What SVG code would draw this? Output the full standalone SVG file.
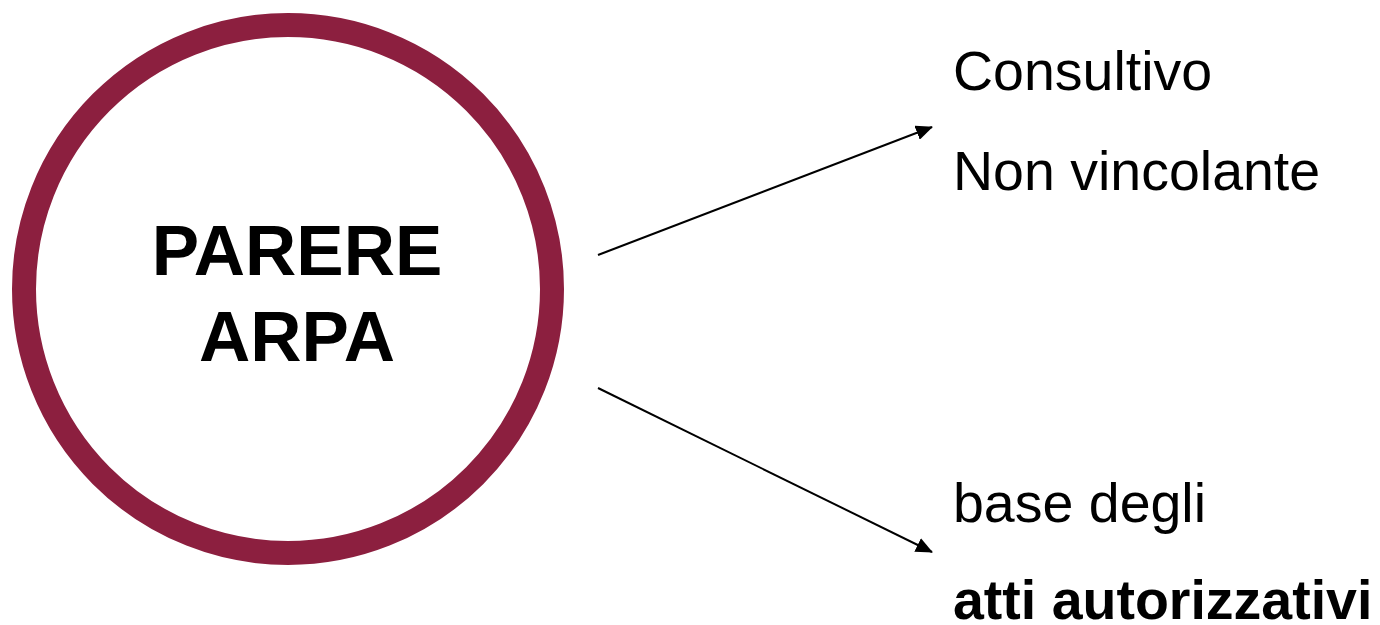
<svg xmlns="http://www.w3.org/2000/svg" width="1380" height="625" viewBox="0 0 1380 625">
<style>
.lbl{font-family:"Liberation Sans",Arial,sans-serif;font-size:55.5px;fill:#000}
.b{font-weight:bold}
.title{font-family:"Liberation Sans",Arial,sans-serif;font-size:71px;font-weight:bold;fill:#000;text-anchor:middle}
.conn{stroke:#000;stroke-width:2;fill:none;marker-end:url(#ah)}
</style>
<defs>
<marker id="ah" markerWidth="17" markerHeight="15" refX="16" refY="7.5" orient="auto" markerUnits="userSpaceOnUse">
<path d="M0,0 L17,7.5 L0,15 Z" fill="#000"/>
</marker>
</defs>
<rect width="1380" height="625" fill="#fff"/>
<g id="node-parere">
<circle cx="288" cy="289" r="264" fill="none" stroke="#8C1F3F" stroke-width="24"/>
<text class="title" x="297" y="275">PARERE</text>
<text class="title" x="297" y="361">ARPA</text>
</g>
<g id="connectors">
<line class="conn" x1="598" y1="255" x2="932" y2="127"/>
<line class="conn" x1="598" y1="388" x2="932" y2="552"/>
</g>
<g id="node-consultivo">
<text class="lbl" x="953" y="90">Consultivo</text>
<text class="lbl" x="953" y="190">Non vincolante</text>
</g>
<g id="node-base">
<text class="lbl" x="953" y="522">base degli</text>
<text class="lbl b" x="953" y="619">atti autorizzativi</text>
</g>
</svg>
